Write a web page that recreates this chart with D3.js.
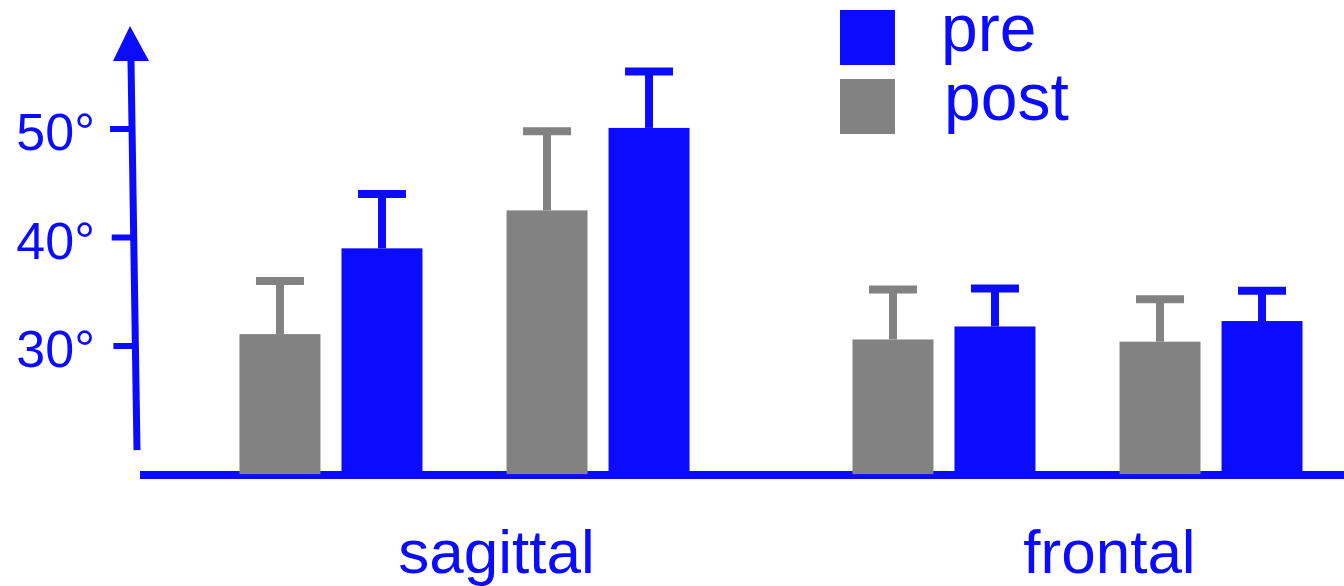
<!DOCTYPE html>
<html>
<head>
<meta charset="utf-8">
<script src="https://cdn.jsdelivr.net/npm/d3@7"></script>
<style>
  html, body { margin: 0; padding: 0; background: #fff; }
  svg { display: block; }
  text { font-family: "Liberation Sans", Arial, Helvetica, sans-serif; fill: #0b0bff; }
</style>
</head>
<body>
<svg id="chart" width="1344" height="586"></svg>
<script>
// Joint angle ranges (degrees), two measurements per plane, before and after
const planes = ["sagittal", "frontal"];
const measures = ["m1", "m2"];
const phases = ["post", "pre"];           // drawn left to right inside each pair
const preMean  = [39.0, 50.1, 31.8, 32.3];
const preSD    = [5.0, 5.2, 3.5, 2.8];
const postMean = [31.1, 42.5, 30.6, 30.4];
const postSD   = [4.9, 7.3, 4.6, 3.9];
const yTicks = [30, 40, 50];
const legendItems = ["pre", "post"];
const baseValue = 18.1;                   // value where the bars start

const BLUE = "#0b0bff";
const GREY = "#828282";
const colour = { pre: BLUE, post: GREY };

const svg = d3.select("#chart");

const y = d3.scaleLinear().domain([30, 50]).range([346, 129]);
const x0 = d3.scaleBand().domain(planes).range([158, 1384]).padding(0);
const x1 = d3.scaleBand().domain(measures).range([0, x0.bandwidth()])
  .paddingInner(0.3146).paddingOuter(0.305);
const x2 = d3.scaleBand().domain(phases).range([0, 183]).paddingInner(0.206).paddingOuter(0);

// flatten into one record per bar
const bars = [];
planes.forEach((p, pi) => {
  measures.forEach((m, mi) => {
    const k = pi * measures.length + mi;
    bars.push({ plane: p, measure: m, phase: "post", mean: postMean[k], sd: postSD[k] });
    bars.push({ plane: p, measure: m, phase: "pre", mean: preMean[k], sd: preSD[k] });
  });
});
const barX = d => x0(d.plane) + x1(d.measure) + (x1.bandwidth() - 183) / 2 + x2(d.phase);

// x axis line
const yBase = y(baseValue);
svg.append("line")
  .attr("x1", 140).attr("x2", 1344)
  .attr("y1", yBase).attr("y2", yBase)
  .attr("stroke", BLUE).attr("stroke-width", 8);

// y axis: slightly leaning line with an arrow head
const axisBottom = y(20.4), axisTop = 61;
const axisX = py => 137 - 6 * (axisBottom - py) / (axisBottom - axisTop);
svg.append("line")
  .attr("x1", axisX(axisBottom)).attr("y1", axisBottom)
  .attr("x2", axisX(axisTop)).attr("y2", axisTop)
  .attr("stroke", BLUE).attr("stroke-width", 7);
svg.append("path")
  .attr("d", `M${axisX(axisTop) - 18},${axisTop} L${axisX(axisTop) - 1},${axisTop - 35} L${axisX(axisTop) + 18},${axisTop} Z`)
  .attr("fill", BLUE);

// ticks and labels
const tickG = svg.append("g").selectAll("g").data(yTicks).join("g");
tickG.append("line")
  .attr("x1", d => axisX(y(d)) - 22).attr("x2", d => axisX(y(d)))
  .attr("y1", d => y(d)).attr("y2", d => y(d))
  .attr("stroke", BLUE).attr("stroke-width", 6);
tickG.append("text")
  .attr("x", 95).attr("y", d => y(d) + 21)
  .attr("text-anchor", "end")
  .attr("font-size", 52)
  .text(d => d + "°");

// bars
svg.append("g").selectAll("rect").data(bars).join("rect")
  .attr("x", barX)
  .attr("width", x2.bandwidth())
  .attr("y", d => y(d.mean))
  .attr("height", d => yBase - 1 - y(d.mean))
  .attr("fill", d => colour[d.phase]);

// error bars (upper whisker only)
const err = svg.append("g").selectAll("g").data(bars).join("g");
err.append("line")
  .attr("x1", d => barX(d) + x2.bandwidth() / 2)
  .attr("x2", d => barX(d) + x2.bandwidth() / 2)
  .attr("y1", d => y(d.mean))
  .attr("y2", d => y(d.mean + d.sd))
  .attr("stroke", d => colour[d.phase]).attr("stroke-width", 8);
err.append("line")
  .attr("x1", d => barX(d) + x2.bandwidth() / 2 - 24)
  .attr("x2", d => barX(d) + x2.bandwidth() / 2 + 24)
  .attr("y1", d => y(d.mean + d.sd))
  .attr("y2", d => y(d.mean + d.sd))
  .attr("stroke", d => colour[d.phase]).attr("stroke-width", 8);

// plane labels
svg.append("g").selectAll("text").data(planes).join("text")
  .attr("x", d => x0(d) + x0.bandwidth() / 2 + 32)
  .attr("y", 573)
  .attr("text-anchor", "middle")
  .attr("font-size", 62)
  .text(d => d);

// legend
const leg = svg.append("g").selectAll("g").data(legendItems).join("g")
  .attr("transform", (d, i) => `translate(840, ${10 + i * 69})`);
leg.append("rect")
  .attr("width", 55).attr("height", 55)
  .attr("fill", d => colour[d]);
leg.append("text")
  .attr("x", (d, i) => 101 + i * 3)
  .attr("y", (d, i) => 41 + i * 0)
  .attr("font-size", 66)
  .text(d => d);
</script>
</body>
</html>
